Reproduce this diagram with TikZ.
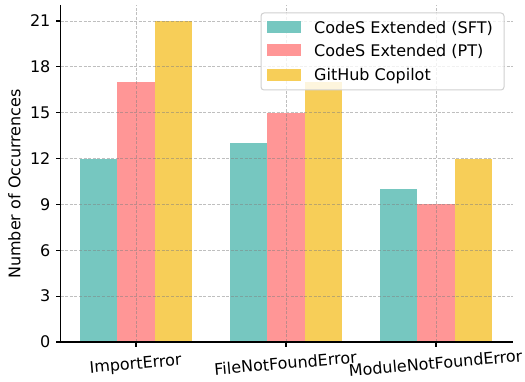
\documentclass[tikz,border=0pt]{standalone}
\usepackage{fontspec}
\setmainfont{DejaVu Sans}
\definecolor{cteal}{RGB}{118,199,192}
\definecolor{cpink}{RGB}{255,150,150}
\definecolor{cyell}{RGB}{247,206,88}
\definecolor{cgrid}{RGB}{128,128,128}
\definecolor{cframe}{RGB}{208,208,208}
\begin{document}
\begin{tikzpicture}[x=1pt,y=1pt,
  lbl/.style={font=\fontsize{16}{19}\selectfont, inner sep=0pt},
  gridline/.style={draw=cgrid, draw opacity=0.5, line width=0.85pt, dash pattern=on 3pt off 1.6pt},
  spine/.style={draw=black, line width=1.07pt},
  tickmark/.style={draw=black, line width=1.07pt},
  patch/.style={inner sep=0pt, minimum width=34pt, minimum height=12pt}]
\useasboundingbox (0,0) rectangle (525,381);
% bars
\foreach \c/\a/\b/\d in {136/12/17/21, 286/13/15/17, 436/10/9/12}{
  \fill[cteal] (\c-56.4,39) rectangle (\c-18.8,{39+15.286*\a});
  \fill[cpink] (\c-18.8,39) rectangle (\c+18.8,{39+15.286*\b});
  \fill[cyell] (\c+18.8,39) rectangle (\c+56.4,{39+15.286*\d});
}
% grid
\foreach \v in {3,6,...,21}{
  \draw[gridline] (60.5,{39+15.286*\v}) -- (513,{39+15.286*\v});
}
\foreach \c in {136,286,436}{
  \draw[gridline] (\c,39) -- (\c,376);
}
% spines
\coordinate (o) at (60.5,39);
\coordinate (xe) at (513,39);
\coordinate (ye) at (60.5,376);
\draw[spine] (ye) -- (o) -- (xe);
% y ticks
\foreach \v in {0,3,...,21}{
  \draw[tickmark] (60.5,{39+15.286*\v}) -- (55.8,{39+15.286*\v});
  \node[lbl, anchor=base east] (yt\v) at (50.6,{39+15.286*\v-5.8}) {\v};
}
% x ticks
\foreach \c/\t/\n in {136/ImportError/a, 286/FileNotFoundError/b, 436/ModuleNotFoundError/c}{
  \draw[tickmark] (\c,39) -- (\c,34.3);
  \node[lbl, anchor=base, rotate=5] (xt\n) at (\c,11.9) {\t};
}
% y label
\node[lbl, anchor=base, rotate=90] (ylab) at (20.3,197) {Number of Occurrences};
% legend
\draw[draw=cframe, line width=1pt, fill=white, fill opacity=0.8, rounded corners=3pt] (261,291) rectangle (504,368);
\node[patch, fill=cteal, anchor=south west] (p1) at (267,348) {};
\node[patch, fill=cpink, anchor=south west] (p2) at (267,324.3) {};
\node[patch, fill=cyell, anchor=south west] (p3) at (267,300) {};
\node[lbl, anchor=base west] (l1) at (314,347.7) {CodeS Extended (SFT)};
\node[lbl, anchor=base west] (l2) at (314,324.3) {CodeS Extended (PT)};
\node[lbl, anchor=base west] (l3) at (314,300) {GitHub Copilot};
\end{tikzpicture}
\end{document}
